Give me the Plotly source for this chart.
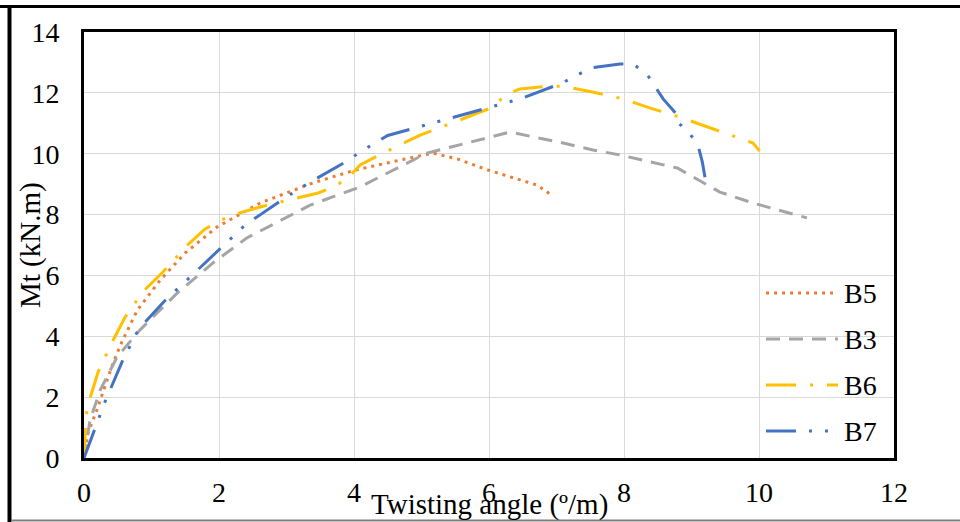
import plotly.graph_objects as go

# ---- data ----
b5_x = [0, 0.06, 0.19, 0.43, 0.56, 0.79, 1.13, 1.5, 1.97, 2.61, 3.39, 4.0, 4.68, 5.17, 5.53, 5.99, 6.46, 6.71, 6.9]
b5_y = [0, 0.82, 1.58, 3.12, 3.81, 4.86, 5.85, 6.74, 7.59, 8.38, 9.04, 9.45, 9.79, 10.02, 9.83, 9.46, 9.14, 8.97, 8.68]

b3_x = [0, 0.09, 0.24, 0.49, 0.83, 1.38, 1.91, 2.41, 3.35, 4.09, 5.08, 5.82, 6.31, 7.1, 7.54, 7.94, 8.79, 9.42, 9.91, 10.71]
b3_y = [0, 1.25, 2.23, 3.32, 4.21, 5.42, 6.41, 7.23, 8.31, 8.91, 10.02, 10.45, 10.71, 10.35, 10.12, 9.96, 9.53, 8.74, 8.38, 7.89]

b6_x = [0, 0.02, 0.03, 0.09, 0.21, 0.41, 0.61, 0.87, 1.17, 1.5, 1.79, 2.0, 2.21, 2.61, 3.10, 3.47, 3.70, 3.91,
        4.09, 4.43, 4.98, 5.47, 5.84, 6.06, 6.24, 6.46, 6.87, 7.10, 7.53, 7.99, 8.39, 8.83, 9.23, 9.67, 9.91, 10.01]
b6_y = [0, 0.9, 1.41, 1.97, 2.83, 3.78, 4.63, 5.46, 6.11, 6.93, 7.52, 7.79, 7.99, 8.25, 8.51, 8.71, 8.91, 9.2,
        9.63, 10.02, 10.61, 11.04, 11.34, 11.53, 11.93, 12.13, 12.22, 12.22, 12.03, 11.80, 11.5, 11.2, 10.88, 10.55, 10.35, 10.09]

b7_x = [0, 0.14, 0.31, 0.57, 0.78, 0.93, 1.22, 1.56, 2.04, 2.39, 2.93, 3.33, 3.90, 4.09, 4.5, 5.16, 5.6, 6.01,
        6.46, 7.08, 7.51, 7.94, 8.13, 8.33, 8.58, 8.79, 8.79, 8.96, 9.10, 9.16, 9.2]
b7_y = [0, 0.85, 1.84, 3.19, 4.11, 4.53, 5.22, 5.92, 6.93, 7.66, 8.48, 9.04, 9.76, 10.06, 10.6, 11.01, 11.27, 11.53,
        11.8, 12.32, 12.82, 12.95, 12.95, 12.65, 11.8, 11.27, 11.04, 10.71, 10.25, 9.73, 9.23]

series_names = ["B5", "B3", "B6", "B7"]
x_ticks = [0, 2, 4, 6, 8, 10, 12]
y_ticks = [0, 2, 4, 6, 8, 10, 12, 14]

# ---- styles ----
FONT = "Liberation Serif, Times New Roman, serif"
styles = {
    "B5": dict(color="#ED7D31", dash="3px,5px"),
    "B3": dict(color="#A5A5A5", dash="14px,9px"),
    "B6": dict(color="#FFC000", dash="30px,14px,3px,14px"),
    "B7": dict(color="#4472C4", dash="30px,13px,3px,13px,3px,13px"),
}
data = {"B5": (b5_x, b5_y), "B3": (b3_x, b3_y), "B6": (b6_x, b6_y), "B7": (b7_x, b7_y)}

fig = go.Figure()
for name in series_names:
    xs, ys = data[name]
    st = styles[name]
    fig.add_trace(go.Scatter(x=xs, y=ys, mode="lines", name=name, showlegend=False,
                             line=dict(color=st["color"], width=3, dash=st["dash"])))

L, R, T, B = 84, 66, 32, 64
W, H = 960, 522
pw, ph = W - L - R, H - T - B

def px_x(px):
    return (px - L) / pw

def px_y(py):
    return (H - B - py) / ph

shapes = []
annotations = []
# manual legend
legend_rows = [293, 339, 385, 431]
for name, yrow in zip(series_names, legend_rows):
    st = styles[name]
    shapes.append(dict(type="line", xref="paper", yref="paper",
                       x0=px_x(766), x1=px_x(838), y0=px_y(yrow), y1=px_y(yrow),
                       line=dict(color=st["color"], width=3, dash=st["dash"])))
    annotations.append(dict(text=name, xref="paper", yref="paper", x=px_x(842), y=px_y(yrow),
                            xanchor="left", yanchor="middle", showarrow=False,
                            font=dict(family=FONT, size=28, color="black")))

# outer frame lines
shapes.append(dict(type="line", xref="paper", yref="paper", x0=px_x(0), x1=px_x(960),
                   y0=px_y(6.5), y1=px_y(6.5), line=dict(color="black", width=3)))
shapes.append(dict(type="line", xref="paper", yref="paper", x0=px_x(9.5), x1=px_x(9.5),
                   y0=px_y(5), y1=px_y(522), line=dict(color="black", width=4)))
shapes.append(dict(type="line", xref="paper", yref="paper", x0=px_x(11), x1=px_x(960),
                   y0=px_y(520.5), y1=px_y(520.5), line=dict(color="#7F7F7F", width=2)))

# axis titles
annotations.append(dict(text="Twisting angle (º/m)", xref="paper", yref="paper",
                        x=px_x(489), y=px_y(504), xanchor="center", yanchor="middle",
                        showarrow=False, font=dict(family=FONT, size=29, color="black")))
annotations.append(dict(text="Mt (kN.m)", xref="paper", yref="paper",
                        x=px_x(30), y=px_y(245), xanchor="center", yanchor="middle", textangle=-90,
                        showarrow=False, font=dict(family=FONT, size=29, color="black")))

fig.update_layout(
    width=W, height=H,
    margin=dict(l=L, r=R, t=T, b=B, pad=0, autoexpand=False),
    paper_bgcolor="white", plot_bgcolor="white",
    font=dict(family=FONT, size=28, color="black"),
    shapes=shapes, annotations=annotations,
    xaxis=dict(range=[0, 12], tickvals=x_ticks, ticktext=[str(v) for v in x_ticks],
               showgrid=True, gridcolor="#D9D9D9", gridwidth=1.3, zeroline=False,
               showline=True, linecolor="black", linewidth=3, mirror=True,
               ticks="", ticklabelstandoff=7, automargin=False,
               tickfont=dict(family=FONT, size=28, color="black")),
    yaxis=dict(range=[0, 14], tickvals=y_ticks, ticktext=[str(v) for v in y_ticks],
               showgrid=True, gridcolor="#D9D9D9", gridwidth=1.3, zeroline=False,
               showline=True, linecolor="black", linewidth=3, mirror=True,
               ticks="", ticklabelstandoff=16, automargin=False,
               tickfont=dict(family=FONT, size=28, color="black")),
)

fig.write_html("out.html", config={"displayModeBar": False},
               post_script="document.body.style.margin='0';document.body.style.overflow='hidden';")
